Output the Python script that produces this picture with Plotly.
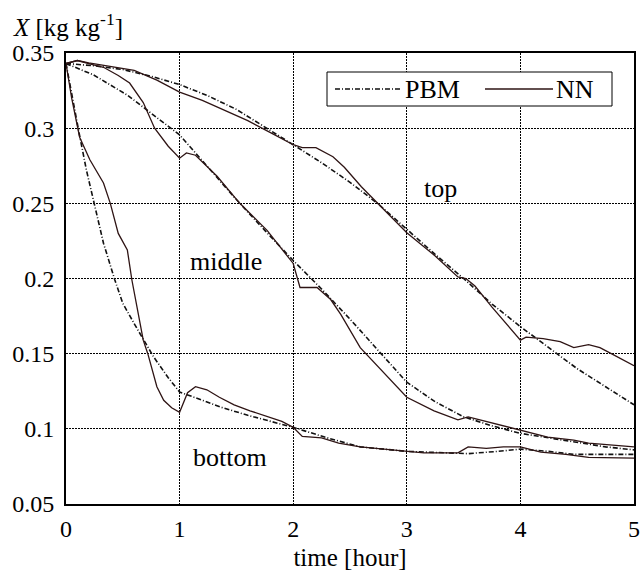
import plotly.graph_objects as go

# ---------------- data ----------------
top_pbm_t = [0, 0.25, 0.5, 0.75, 1.0, 1.25, 1.5, 1.75, 2.0, 2.25, 2.5, 2.75, 3.0, 3.25, 3.5, 3.75, 4.0, 4.25, 4.5, 4.75, 5.0]
top_pbm_x = [0.343, 0.3415, 0.339, 0.3345, 0.329, 0.3215, 0.3125, 0.301, 0.289, 0.277, 0.264, 0.2495, 0.2325, 0.216, 0.200, 0.183, 0.168, 0.154, 0.140, 0.128, 0.116]

top_nn_t = [0, 0.1, 0.2, 0.4, 0.6, 0.8, 1.0, 1.2, 1.4, 1.6, 1.8, 2.0, 2.08, 2.2, 2.35, 2.45, 2.6, 2.75, 3.0, 3.25, 3.45, 3.52, 3.6, 3.75, 3.9, 4.0, 4.05, 4.2, 4.35, 4.47, 4.6, 4.7, 4.8, 4.9, 5.0]
top_nn_x = [0.343, 0.345, 0.3435, 0.341, 0.3385, 0.332, 0.324, 0.3185, 0.312, 0.305, 0.297, 0.289, 0.287, 0.287, 0.281, 0.274, 0.261, 0.2495, 0.2305, 0.215, 0.201, 0.200, 0.195, 0.181, 0.168, 0.159, 0.161, 0.160, 0.158, 0.154, 0.156, 0.154, 0.150, 0.146, 0.142]

mid_pbm_t = [0, 0.24, 0.54, 0.68, 1.0, 1.25, 1.5, 1.75, 2.0, 2.25, 2.5, 2.75, 3.0, 3.25, 3.5, 3.75, 4.0, 4.25, 4.5, 4.75, 5.0]
mid_pbm_x = [0.343, 0.3355, 0.322, 0.314, 0.2955, 0.274, 0.2525, 0.232, 0.212, 0.193, 0.173, 0.152, 0.131, 0.118, 0.108, 0.102, 0.097, 0.094, 0.091, 0.088, 0.086]

mid_nn_t = [0, 0.1, 0.25, 0.33, 0.46, 0.56, 0.68, 0.78, 0.9, 1.0, 1.06, 1.14, 1.33, 1.53, 1.77, 2.0, 2.06, 2.21, 2.33, 2.42, 2.59, 2.8, 3.0, 3.24, 3.45, 3.54, 3.74, 4.0, 4.24, 4.47, 4.6, 5.0]
mid_nn_x = [0.343, 0.345, 0.342, 0.3405, 0.335, 0.330, 0.317, 0.300, 0.288, 0.280, 0.2835, 0.282, 0.268, 0.250, 0.232, 0.210, 0.194, 0.194, 0.186, 0.176, 0.154, 0.137, 0.121, 0.112, 0.106, 0.108, 0.104, 0.099, 0.0945, 0.0925, 0.0905, 0.088]

bot_pbm_t = [0, 0.06, 0.12, 0.18, 0.24, 0.33, 0.43, 0.5, 0.6, 0.68, 0.77, 0.9, 1.0, 1.2, 1.36, 1.6, 1.8, 2.0, 2.3, 2.59, 3.0, 3.3, 3.54, 3.8, 4.0, 4.25, 4.47, 5.0]
bot_pbm_x = [0.343, 0.318, 0.295, 0.272, 0.252, 0.2235, 0.199, 0.1835, 0.170, 0.160, 0.148, 0.134, 0.1245, 0.119, 0.1145, 0.109, 0.105, 0.101, 0.094, 0.088, 0.085, 0.084, 0.0835, 0.085, 0.0865, 0.085, 0.083, 0.083]

bot_nn_t = [0, 0.05, 0.12, 0.21, 0.33, 0.39, 0.46, 0.54, 0.58, 0.64, 0.68, 0.72, 0.80, 0.86, 0.93, 1.0, 1.07, 1.14, 1.24, 1.35, 1.48, 1.62, 1.77, 1.9, 2.0, 2.08, 2.25, 2.4, 2.59, 2.8, 3.0, 3.15, 3.45, 3.54, 3.7, 3.85, 4.0, 4.18, 4.4, 4.6, 5.0]
bot_nn_x = [0.343, 0.32, 0.294, 0.279, 0.2635, 0.25, 0.230, 0.219, 0.199, 0.175, 0.159, 0.150, 0.128, 0.119, 0.114, 0.111, 0.124, 0.128, 0.126, 0.121, 0.116, 0.112, 0.108, 0.105, 0.101, 0.095, 0.094, 0.0905, 0.088, 0.0865, 0.0855, 0.084, 0.084, 0.088, 0.087, 0.088, 0.088, 0.0845, 0.083, 0.081, 0.0805]

x_ticks = [0, 1, 2, 3, 4, 5]
y_ticks = [0.05, 0.1, 0.15, 0.2, 0.25, 0.3, 0.35]
y_tick_text = ["0.05", "0.1", "0.15", "0.2", "0.25", "0.3", "0.35"]

region_labels = ["top", "middle", "bottom"]
region_label_t = [3.30, 1.41, 1.44]
region_label_x = [0.260, 0.211, 0.081]

# ---------------- styling ----------------
FONT = "Liberation Serif"
PBM_STYLE = dict(color="#111111", width=1.6, dash="5px,2px,1px,2px")
NN_STYLE = dict(color="#2e1414", width=1.3)

fig = go.Figure()
for t, v in [(top_pbm_t, top_pbm_x), (mid_pbm_t, mid_pbm_x), (bot_pbm_t, bot_pbm_x)]:
    fig.add_trace(go.Scatter(x=t, y=v, mode="lines", line=PBM_STYLE, showlegend=False, name="PBM"))
for t, v in [(top_nn_t, top_nn_x), (mid_nn_t, mid_nn_x), (bot_nn_t, bot_nn_x)]:
    fig.add_trace(go.Scatter(x=t, y=v, mode="lines", line=NN_STYLE, showlegend=False, name="NN"))

for lab, t, v in zip(region_labels, region_label_t, region_label_x):
    fig.add_annotation(x=t, y=v, text=lab, showarrow=False, font=dict(family=FONT, size=26, color="black"))

# legend box (drawn manually to match sample-line length)
px0, px1, py0, py1 = 66, 634, 53, 504
def px(p):
    return (p - px0) / (px1 - px0)
def py(p):
    return (py1 - p) / (py1 - py0)

fig.add_shape(type="rect", xref="paper", yref="paper", x0=px(327), x1=px(612), y0=py(106), y1=py(72),
              line=dict(color="black", width=1), fillcolor="white", layer="above")
fig.add_shape(type="line", xref="paper", yref="paper", x0=px(335), x1=px(402), y0=py(89), y1=py(89),
              line=PBM_STYLE, layer="above")
fig.add_shape(type="line", xref="paper", yref="paper", x0=px(485), x1=px(553), y0=py(89), y1=py(89),
              line=NN_STYLE, layer="above")
fig.add_annotation(xref="paper", yref="paper", x=px(403), y=py(89), text="PBM", showarrow=False,
                   xanchor="left", yanchor="middle", font=dict(family=FONT, size=26, color="black"))
fig.add_annotation(xref="paper", yref="paper", x=px(554), y=py(89), text="NN", showarrow=False,
                   xanchor="left", yanchor="middle", font=dict(family=FONT, size=26, color="black"))

# y-axis title at top-left
fig.add_annotation(xref="paper", yref="paper", x=px(11), y=py(25), text="<i>X</i> [kg kg<sup>-1</sup>]",
                   showarrow=False, xanchor="left", yanchor="middle", font=dict(family=FONT, size=25, color="black"))

fig.update_layout(
    width=643, height=571,
    margin=dict(l=66, r=9, t=53, b=67, autoexpand=False),
    paper_bgcolor="white", plot_bgcolor="white",
    font=dict(family=FONT, size=24, color="black"),
)
fig.update_xaxes(range=[0, 5], tickvals=x_ticks, ticks="", showline=True, linecolor="black", linewidth=2,
                 mirror=True, showgrid=True, gridcolor="black", gridwidth=1.2, griddash="2px,1px",
                 zeroline=False, automargin=False,
                 title=dict(text="time [hour]", font=dict(family=FONT, size=25), standoff=12),
                 tickfont=dict(family=FONT, size=24), ticklabelstandoff=2)
fig.update_yaxes(range=[0.05, 0.35], tickvals=y_ticks, ticktext=y_tick_text, ticks="", showline=True,
                 linecolor="black", linewidth=2, mirror=True, showgrid=True, gridcolor="black", gridwidth=1.2,
                 griddash="2px,1px", zeroline=False, automargin=False, tickfont=dict(family=FONT, size=24),
                 ticklabelstandoff=5)

fig.write_html("out.html")
